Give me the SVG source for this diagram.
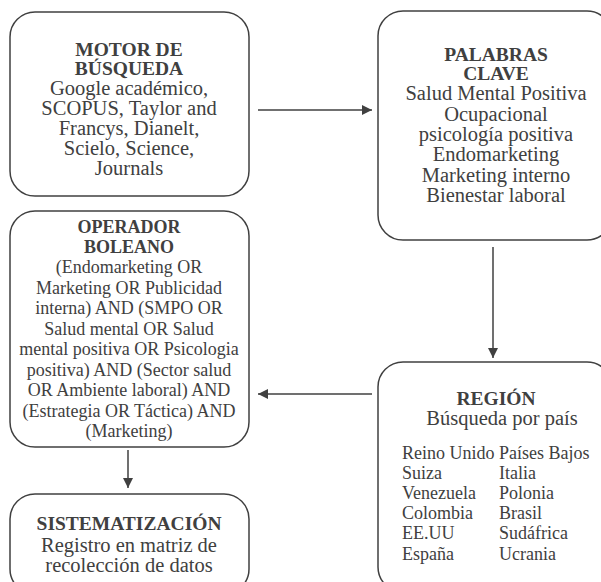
<svg xmlns="http://www.w3.org/2000/svg" width="601" height="582" viewBox="0 0 601 582">
<style>
.box{fill:#fff;stroke:#404040;stroke-width:1.5}
text{font-family:"Liberation Serif","Times New Roman",serif;fill:#404040;text-anchor:middle}
.t{font-weight:bold;font-size:19.5px}
.b{font-size:20.5px}
.s{font-size:18px}
.l{text-anchor:start}
.c{stroke:#404040;stroke-width:1.5;fill:none}
</style>
<defs>
<marker id="ah" viewBox="0 0 10 10" refX="10" refY="5" markerWidth="10" markerHeight="10" markerUnits="userSpaceOnUse" orient="auto">
<path d="M0,0 L10,5 L0,10 z" fill="#404040"/>
</marker>
</defs>
<g id="connectors">
<line class="c" x1="258" y1="110" x2="372" y2="110" marker-end="url(#ah)"/>
<line class="c" x1="493" y1="247" x2="493" y2="358" marker-end="url(#ah)"/>
<line class="c" x1="372" y1="394" x2="258" y2="394" marker-end="url(#ah)"/>
<line class="c" x1="128" y1="450" x2="128" y2="488" marker-end="url(#ah)"/>
</g>
<g id="motor">
<rect class="box" x="10" y="12" width="239" height="184" rx="25"/>
<text class="t" x="129" y="55.5">MOTOR DE</text>
<text class="t" x="129" y="75">BÚSQUEDA</text>
<text class="b" x="129" y="95">Google académico,</text>
<text class="b" x="129" y="115">SCOPUS, Taylor and</text>
<text class="b" x="129" y="135">Francys, Dianelt,</text>
<text class="b" x="129" y="155">Scielo, Science,</text>
<text class="b" x="129" y="175">Journals</text>
</g>
<g id="palabras">
<rect class="box" x="378" y="11" width="234" height="229" rx="25"/>
<text class="t" x="496" y="60.5">PALABRAS</text>
<text class="t" x="496" y="80">CLAVE</text>
<text class="b" x="496" y="100">Salud Mental Positiva</text>
<text class="b" x="496" y="120.5">Ocupacional</text>
<text class="b" x="496" y="140.5">psicología positiva</text>
<text class="b" x="496" y="161">Endomarketing</text>
<text class="b" x="496" y="181.5">Marketing interno</text>
<text class="b" x="496" y="202">Bienestar laboral</text>
</g>
<g id="region">
<rect class="box" x="378" y="362" width="234" height="230" rx="25"/>
<text class="t" x="496" y="405">REGIÓN</text>
<text class="b" x="502" y="425">Búsqueda por país</text>
<text class="s l" x="402" y="459">Reino Unido</text>
<text class="s l" x="402" y="479">Suiza</text>
<text class="s l" x="402" y="499">Venezuela</text>
<text class="s l" x="402" y="519">Colombia</text>
<text class="s l" x="402" y="539">EE.UU</text>
<text class="s l" x="402" y="560">España</text>
<text class="s l" x="499" y="459">Países Bajos</text>
<text class="s l" x="499" y="479">Italia</text>
<text class="s l" x="499" y="499">Polonia</text>
<text class="s l" x="499" y="519">Brasil</text>
<text class="s l" x="499" y="539">Sudáfrica</text>
<text class="s l" x="499" y="560">Ucrania</text>
</g>
<g id="operador">
<rect class="box" x="10" y="211" width="239" height="236" rx="25"/>
<text class="t s" x="129" y="233">OPERADOR</text>
<text class="t s" x="129" y="253">BOLEANO</text>
<text class="s" x="129" y="273">(Endomarketing OR</text>
<text class="s" x="129" y="293.5">Marketing OR Publicidad</text>
<text class="s" x="129" y="314">interna) AND (SMPO OR</text>
<text class="s" x="129" y="334.5">Salud mental OR Salud</text>
<text class="s" x="129" y="355">mental positiva OR Psicologia</text>
<text class="s" x="129" y="375.5">positiva) AND (Sector salud</text>
<text class="s" x="129" y="396">OR Ambiente laboral) AND</text>
<text class="s" x="129" y="416.5">(Estrategia OR Táctica) AND</text>
<text class="s" x="129" y="437">(Marketing)</text>
</g>
<g id="sistematizacion">
<rect class="box" x="10" y="494" width="239" height="100" rx="25"/>
<text class="t" x="129" y="530">SISTEMATIZACIÓN</text>
<text class="b" x="129" y="552">Registro en matriz de</text>
<text class="b" x="129" y="572">recolección de datos</text>
</g>
</svg>
